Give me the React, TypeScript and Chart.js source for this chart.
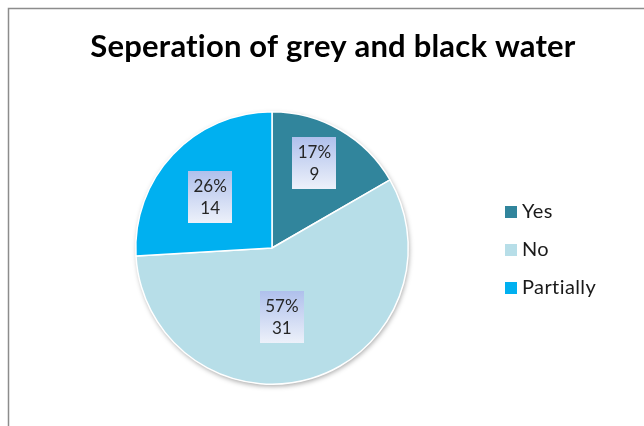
import React, { useEffect, useRef } from "react";
import { Chart, registerables } from "chart.js";

Chart.register(...registerables);

const chartTitle = "Seperation of grey and black water";
const categories = ["Yes", "No", "Partially"];
const counts = [9, 31, 14];
const sliceColors = ["#31859C", "#B7DEE8", "#00B0F0"];

// label placement style: radius factor and angle shift (deg) per slice
const labelPlacement = [
  { r: 0.7, shift: -3.6 },
  { r: 0.51, shift: 8.5 },
  { r: 0.59, shift: -3.6 },
];

const FONT = "Lato, 'Open Sans', sans-serif";

const decorPlugin = {
  id: "decor",
  beforeDatasetsDraw(chart: any) {
    const ctx = chart.ctx;
    const meta = chart.getDatasetMeta(0);
    const arc = meta.data[0];
    if (!arc) return;
    const { x, y, outerRadius } = arc.getProps(["x", "y", "outerRadius"], true);
    ctx.save();
    ctx.shadowColor = "rgba(0,0,0,0.35)";
    ctx.shadowBlur = 5;
    ctx.shadowOffsetX = 1;
    ctx.shadowOffsetY = 2;
    ctx.fillStyle = "#ffffff";
    ctx.beginPath();
    ctx.arc(x, y, outerRadius, 0, Math.PI * 2);
    ctx.fill();
    ctx.restore();
  },
  afterDraw(chart: any) {
    const ctx = chart.ctx;
    ctx.save();
    // frame
    ctx.strokeStyle = "#8c8c8c";
    ctx.lineWidth = 1.5;
    ctx.beginPath();
    ctx.moveTo(8.5, 430);
    ctx.lineTo(8.5, 8.5);
    ctx.lineTo(650, 8.5);
    ctx.stroke();

    // title
    ctx.fillStyle = "#000000";
    ctx.font = `bold 31px ${FONT}`;
    (ctx as any).letterSpacing = "0.2px";
    ctx.textAlign = "center";
    ctx.textBaseline = "alphabetic";
    ctx.fillText(chartTitle, 333, 57);

    // legend
    const total = counts.reduce((a, b) => a + b, 0);
    ctx.font = `20px ${FONT}`;
    (ctx as any).letterSpacing = "0.4px";
    ctx.textAlign = "left";
    ctx.textBaseline = "middle";
    categories.forEach((c, i) => {
      const cy = 212 + i * 38;
      ctx.fillStyle = sliceColors[i];
      ctx.fillRect(505, cy - 6, 12, 12);
      ctx.fillStyle = "#1a1a1a";
      ctx.fillText(c, 522, cy);
    });
    (ctx as any).letterSpacing = "0px";

    // data labels
    const meta = chart.getDatasetMeta(0);
    meta.data.forEach((el: any, i: number) => {
      const p = el.getProps(["x", "y", "startAngle", "endAngle", "outerRadius"], true);
      const mid = (p.startAngle + p.endAngle) / 2 + (labelPlacement[i].shift * Math.PI) / 180;
      const rr = p.outerRadius * labelPlacement[i].r;
      const lx = p.x + Math.cos(mid) * rr;
      const ly = p.y + Math.sin(mid) * rr;
      const pct = Math.round((counts[i] / total) * 100) + "%";
      const w = 44;
      const h = 52;
      const bx = Math.round(lx - w / 2);
      const by = Math.round(ly - h / 2);
      const g = ctx.createLinearGradient(0, by, 0, by + h);
      g.addColorStop(0, "#AFC0EC");
      g.addColorStop(1, "#EDF1FA");
      ctx.fillStyle = g;
      ctx.fillRect(bx, by, w, h);
      ctx.fillStyle = "#262626";
      ctx.font = `17px ${FONT}`;
      ctx.textAlign = "center";
      ctx.textBaseline = "middle";
      ctx.fillText(pct, lx, ly - 10);
      ctx.fillText(String(counts[i]), lx, ly + 12);
    });
    ctx.restore();
  },
};

export default function App() {
  const ref = useRef<HTMLCanvasElement>(null);
  useEffect(() => {
    if (!ref.current) return;
    const chart = new Chart(ref.current, {
      type: "pie",
      data: {
        labels: categories,
        datasets: [
          {
            data: counts,
            backgroundColor: sliceColors,
            borderColor: "#ffffff",
            borderWidth: 1.5,
          },
        ],
      },
      options: {
        responsive: false,
        animation: false,
        layout: { padding: { left: 135, right: 235, top: 111, bottom: 41 } },
        plugins: {
          legend: { display: false },
          title: { display: false },
          tooltip: { enabled: false },
        },
      },
      plugins: [decorPlugin],
    });
    return () => chart.destroy();
  }, []);
  return (
    <div style={{ position: "fixed", left: 0, top: 0, width: 644, height: 426, background: "#fff" }}>
      <canvas ref={ref} width={644} height={426} style={{ display: "block" }} />
    </div>
  );
}
